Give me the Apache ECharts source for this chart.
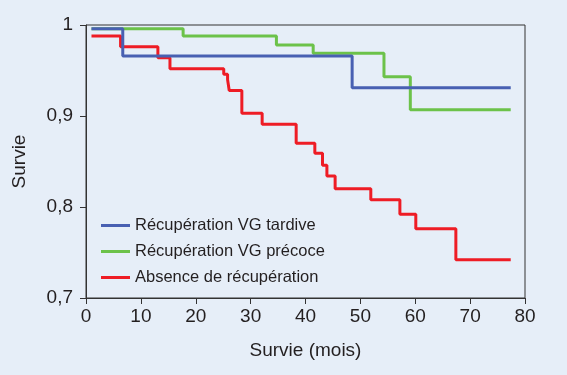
<!DOCTYPE html>
<html>
<head>
<meta charset="utf-8">
<script src="https://cdn.jsdelivr.net/npm/echarts@6/dist/echarts.min.js"></script>
<style>
  html, body { margin: 0; padding: 0; background: #e6eef8; }
  #main { width: 567px; height: 375px; }
</style>
</head>
<body>
<div id="main"></div>
<script>
  // temps en mois, survie apres chaque evenement
  var seriesNames = ['Récupération VG tardive', 'Récupération VG précoce', 'Absence de récupération'];
  var tardiveMois = [1, 6.7, 48.5, 77.4];
  var tardiveSurvie = [0.996, 0.966, 0.931, 0.931];
  var precoceMois = [1, 17.7, 34.7, 41.4, 54.3, 59.1, 77.4];
  var precoceSurvie = [0.996, 0.988, 0.978, 0.969, 0.943, 0.907, 0.907];
  var absenceMois = [1, 6.3, 13.1, 15.3, 25.1, 25.8, 26.1, 28.4, 32.1, 38.3, 41.7, 43.1, 43.9, 45.4, 51.9, 57.2, 60.1, 67.4, 77.4];
  var absenceSurvie = [0.988, 0.976, 0.964, 0.952, 0.946, 0.940, 0.928, 0.903, 0.891, 0.870, 0.859, 0.846, 0.834, 0.820, 0.808, 0.792, 0.776, 0.742, 0.742];
  var couleurs = ['#4860b2', '#6cc24a', '#ee1c25'];

  function pairs(xs, ys) {
    return xs.map(function (x, i) { return [x, ys[i]]; });
  }

  var chart = echarts.init(document.getElementById('main'));
  var font = 'Liberation Sans, Arial, sans-serif';

  var option = {
    backgroundColor: '#e6eef8',
    color: couleurs,
    animation: false,
    grid: {
      left: 86, right: 42, top: 25, bottom: 77,
      show: true, borderColor: '#333', borderWidth: 1
    },
    legend: {
      orient: 'vertical',
      left: 96, top: 212,
      icon: 'rect',
      itemWidth: 29, itemHeight: 3,
      itemGap: 9,
      textStyle: { fontFamily: font, fontSize: 16.5, color: '#231f20' },
      data: seriesNames
    },
    xAxis: {
      type: 'value', min: 0, max: 80, interval: 10,
      name: 'Survie (mois)', nameLocation: 'middle', nameGap: 43,
      nameTextStyle: { fontFamily: font, fontSize: 19, color: '#231f20' },
      axisLine: { lineStyle: { color: '#333', width: 1 } },
      axisTick: { show: true, length: 6, lineStyle: { color: '#333' } },
      axisLabel: { fontFamily: font, fontSize: 19, color: '#231f20', margin: 9 },
      splitLine: { show: false }
    },
    yAxis: {
      type: 'value', min: 0.7, max: 1, interval: 0.1,
      name: 'Survie', nameLocation: 'middle', nameGap: 57,
      nameTextStyle: { fontFamily: font, fontSize: 19, color: '#231f20' },
      axisLine: { show: true, lineStyle: { color: '#333', width: 1 } },
      axisTick: { show: true, length: 6, lineStyle: { color: '#333' } },
      axisLabel: {
        fontFamily: font, fontSize: 19, color: '#231f20', margin: 13,
        formatter: function (v) {
          var r = Math.round(v * 10) / 10;
          return r === 1 ? '1' : r.toFixed(1).replace('.', ',');
        }
      },
      splitLine: { show: false }
    },
    series: [
      { name: seriesNames[0], data: pairs(tardiveMois, tardiveSurvie) },
      { name: seriesNames[1], data: pairs(precoceMois, precoceSurvie) },
      { name: seriesNames[2], data: pairs(absenceMois, absenceSurvie) }
    ].map(function (s, i) {
      return {
        name: s.name, type: 'line', step: 'end', data: s.data,
        showSymbol: false, symbol: 'none',
        lineStyle: { width: 3, color: couleurs[i] },
        z: 3 - i
      };
    })
  };
  chart.setOption(option);
</script>
</body>
</html>
